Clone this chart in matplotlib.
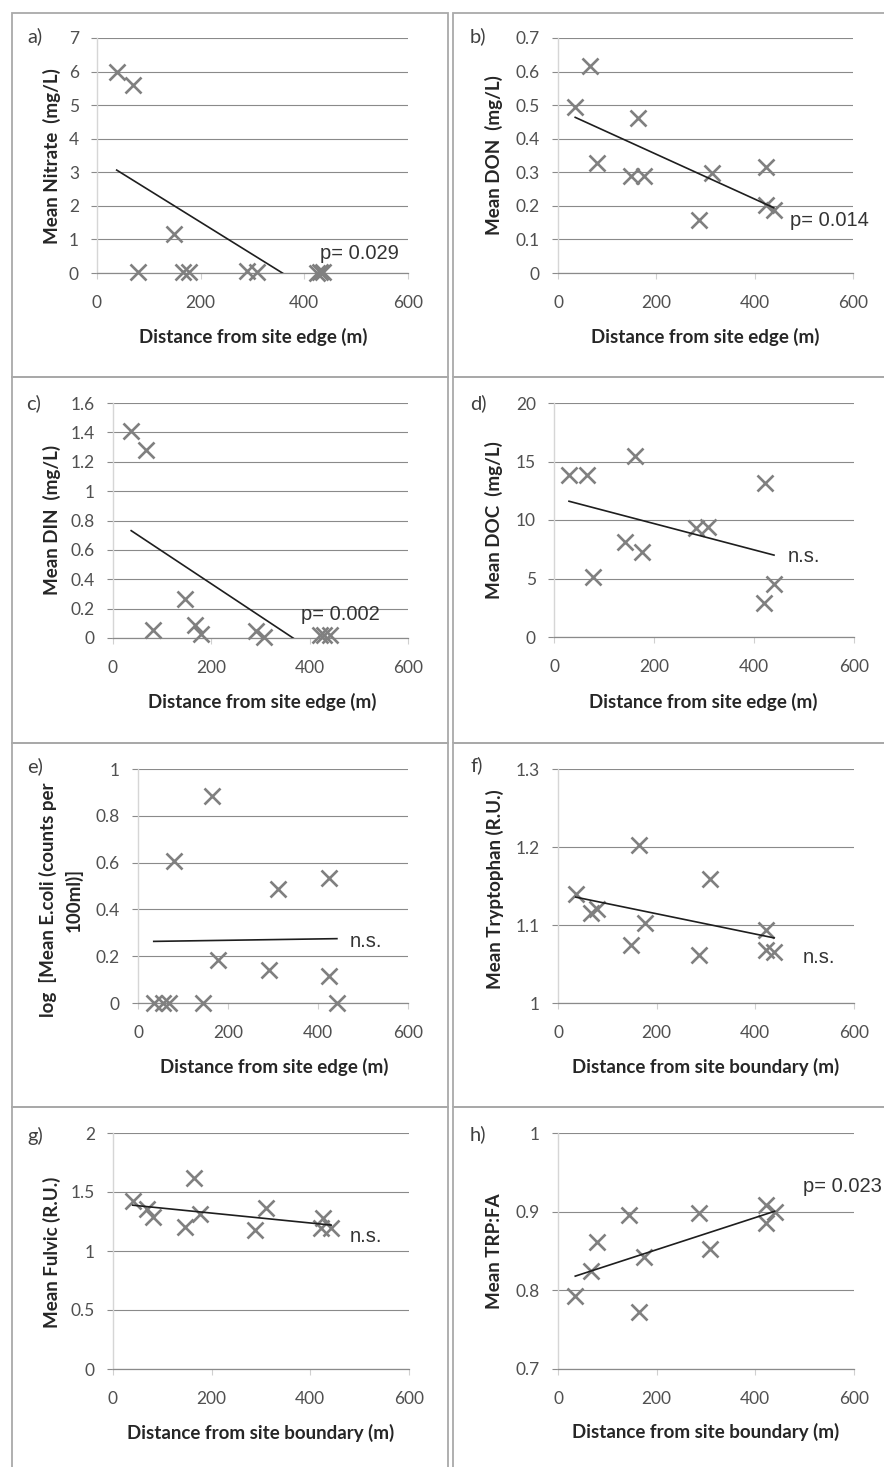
import numpy as np
import matplotlib.pyplot as plt
from matplotlib.patches import Rectangle
from matplotlib.ticker import MultipleLocator, FuncFormatter

# --- site distances and mean values per panel ---
dist_nitrate = [38, 70, 80, 148, 165, 178, 289, 308, 424, 430, 436]
nitrate = [6.0, 5.6, 0.03, 1.15, 0.02, 0.03, 0.06, 0.02, 0.0, 0.02, 0.03]

dist_don = [35, 66, 80, 148, 163, 175, 286, 313, 424, 423, 439]
don = [0.494, 0.618, 0.329, 0.289, 0.461, 0.289, 0.157, 0.297, 0.317, 0.202, 0.187]

dist_din = [37, 68, 81, 146, 166, 178, 291, 308, 420, 430, 441]
din = [1.41, 1.28, 0.052, 0.266, 0.09, 0.03, 0.045, 0.007, 0.023, 0.023, 0.023]

dist_doc = [30, 66, 78, 142, 162, 175, 283, 307, 422, 420, 440]
doc = [13.86, 13.86, 5.09, 8.14, 15.43, 7.29, 9.29, 9.43, 13.2, 2.91, 4.51]

dist_ecoli = [35, 55, 69, 81, 144, 165, 178, 291, 311, 424, 424, 442]
ecoli = [0.0, 0.0, 0.0, 0.605, 0.0, 0.886, 0.185, 0.14, 0.487, 0.534, 0.117, 0.0]

dist_trp = [36, 66, 80, 147, 164, 176, 286, 309, 422, 421, 438]
trp = [1.140, 1.115, 1.120, 1.075, 1.203, 1.103, 1.061, 1.159, 1.094, 1.068, 1.065]

dist_fulvic = [40, 68, 81, 145, 165, 176, 287, 311, 426, 422, 442]
fulvic = [1.42, 1.356, 1.29, 1.20, 1.62, 1.31, 1.175, 1.364, 1.28, 1.195, 1.195]

dist_ratio = [35, 66, 79, 144, 164, 174, 285, 309, 422, 422, 439]
trp_fa = [0.793, 0.825, 0.861, 0.896, 0.772, 0.843, 0.898, 0.853, 0.909, 0.886, 0.900]

# linear trend (slope per m, intercept) for panels a-h
trend_slope = [-0.00959, -0.000667, -0.00222, -0.01123, 0.0000287, -0.00013, -0.000419, 0.000204]
trend_intercept = [3.43, 0.487, 0.813, 11.94, 0.2623, 1.1404, 1.405, 0.8109]

panel_tags = ['a)', 'b)', 'c)', 'd)', 'e)', 'f)', 'g)', 'h)']
y_titles = ['Mean Nitrate  (mg/L)', 'Mean DON  (mg/L)', 'Mean DIN  (mg/L)',
            'Mean DOC  (mg/L)', 'log  [Mean E.coli (counts per\n100ml)]',
            'Mean Tryptophan (R.U.)', 'Mean Fulvic (R.U.)', 'Mean TRP:FA']
x_titles = ['Distance from site edge (m)'] * 5 + ['Distance from site boundary (m)'] * 3
stat_notes = ['p= 0.029', 'p= 0.014', 'p= 0.002', 'n.s.', 'n.s.', 'n.s.', 'n.s.', 'p= 0.023']

W, H = 884, 1467
fig = plt.figure(figsize=(W / 100, H / 100), dpi=100)


def frac(x, y):
    return x / W, 1 - y / H


def add_axes_px(l, t, r, b):
    return fig.add_axes([l / W, 1 - b / H, (r - l) / W, (b - t) / H])


# frames around each panel
row_tops = [13, 377, 743, 1107, 1480]
for i in range(4):
    for l, r in [(12, 448), (453, 895)]:
        x0, y1 = frac(l, row_tops[i])
        x1, y0 = frac(r, row_tops[i + 1])
        fig.patches.append(Rectangle((x0, y0), x1 - x0, y1 - y0, transform=fig.transFigure,
                                     fill=False, edgecolor='#a9a9a9', lw=1.3))

panels = [
    # data, ylim, step, axes box (px), tag pos, ylabel pos, xlabel pos, note pos (data)
    (dist_nitrate, nitrate, (0, 7), 1, (97, 38, 408, 273), (35, 36), (52, 156), (253, 337), (430, 0.58)),
    (dist_don, don, (0, 0.7), 0.1, (558, 38, 853, 273), (478, 36), (494, 155), (705, 337), (472, 0.157)),
    (dist_din, din, (0, 1.6), 0.2, (113, 403, 408, 638), (34, 403), (52, 520), (262, 702), (383, 0.16)),
    (dist_doc, doc, (0, 20), 5, (554, 403, 854, 637), (478, 403), (494, 520), (703, 702), (467, 6.86)),
    (dist_ecoli, ecoli, (0, 1), 0.2, (138, 769, 408, 1003), (35, 766), (61, 900), (274, 1067), (470, 0.264)),
    (dist_trp, trp, (1, 1.3), 0.1, (558, 769, 854, 1003), (477, 765), (495, 889), (706, 1067), (495, 1.058)),
    (dist_fulvic, fulvic, (0, 2), 0.5, (113, 1133, 409, 1369), (35, 1136), (52, 1252), (261, 1433), (480, 1.124)),
    (dist_ratio, trp_fa, (0.7, 1), 0.1, (558, 1133, 854, 1369), (478, 1134), (495, 1251), (706, 1432), (496, 0.932)),
]

label_font = 'Lato'
note_font = ['Liberation Sans Narrow', 'Liberation Sans']

for k, (x, y, ylim, step, box, tag_xy, ylab_xy, xlab_xy, note_xy) in enumerate(panels):
    ax = add_axes_px(*box)
    ax.plot(x, y, 'x', color='#808080', ms=11, mew=1.9, clip_on=False, zorder=3)

    # trend line over the sampled range (clipped at the axis floor)
    xs = np.array([min(x), max(x)])
    ax.plot(xs, trend_intercept[k] + trend_slope[k] * xs, color='#1e1e1e', lw=1.2, zorder=4)

    ax.set_xlim(0, 600)
    ax.set_ylim(*ylim)
    ax.xaxis.set_major_locator(MultipleLocator(200))
    ax.yaxis.set_major_locator(MultipleLocator(step))
    ax.yaxis.set_major_formatter(FuncFormatter(lambda v, _: f'{round(v, 3):g}'))
    ax.yaxis.grid(True, color='#8a8a8a', lw=0.8)
    ax.set_axisbelow(True)
    for s in ['top', 'right']:
        ax.spines[s].set_visible(False)
    ax.spines['left'].set_color('#d6d6d6')
    ax.spines['bottom'].set_color('#8a8a8a')
    ax.spines['left'].set_linewidth(1.0)
    ax.spines['bottom'].set_linewidth(0.9)
    ax.tick_params(axis='y', length=4, color='#8a8a8a', pad=9, labelsize=12.5,
                   labelcolor='#505050')
    ax.tick_params(axis='x', length=4, color='#d0d0d0', pad=12, labelsize=12.5,
                   labelcolor='#505050')
    for lab in ax.get_xticklabels() + ax.get_yticklabels():
        lab.set_family(label_font)

    ax.text(*note_xy, stat_notes[k], family=note_font, fontsize=14.5, color='#333333',
            ha='left', va='center', clip_on=False)

    fig.text(*frac(*tag_xy), panel_tags[k], family=label_font, fontsize=14.5,
             color='#404040', ha='center', va='center')
    fig.text(*frac(*ylab_xy), y_titles[k], family=label_font, fontsize=13.5,
             fontweight='bold', color='#262626', rotation=90, ha='center', va='center',
             linespacing=1.5, multialignment='center')
    fig.text(*frac(*xlab_xy), x_titles[k], family=label_font, fontsize=13.5,
             fontweight='bold', color='#262626', ha='center', va='center')

fig.savefig('out.png', dpi=100)
